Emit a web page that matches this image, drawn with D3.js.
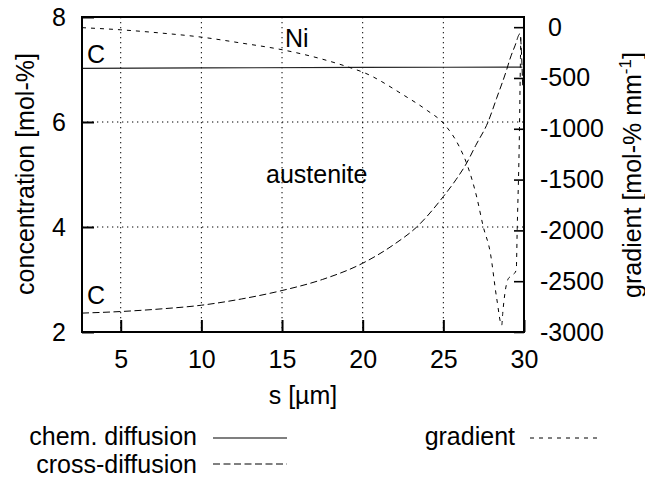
<!DOCTYPE html>
<html>
<head>
<meta charset="utf-8">
<script src="https://cdn.jsdelivr.net/npm/d3@7"></script>
<style>
  html, body { margin: 0; padding: 0; background: #fff; }
  svg text { font-family: "Liberation Sans", Arial, Helvetica, sans-serif; fill: #000; }
</style>
</head>
<body>
<svg id="chart" width="645" height="479"></svg>
<script>
// chem. diffusion profile (left axis, mol-%)
const chemS = [2.6, 10, 20, 29.9];
const chemC = [7.02, 7.03, 7.04, 7.045];

// cross-diffusion profile (left axis, mol-%)
const crossS = [2.6, 5, 7.5, 10, 12.5, 15, 17.5, 20, 22, 23.35, 25, 25.78, 26.45, 27, 27.77, 28.3, 28.93, 29.13, 29.44, 29.75, 29.92];
const crossC = [2.36, 2.39, 2.44, 2.51, 2.63, 2.79, 3.0, 3.31, 3.68, 4.0, 4.58, 4.9, 5.22, 5.55, 6.0, 6.45, 7.0, 7.2, 7.45, 7.68, 6.7];

// concentration gradient (right axis, mol-% mm^-1)
const gradS = [2.6, 5, 7.5, 10, 12.5, 15, 17.5, 19.42, 20, 22.5, 24, 25, 26, 26.45, 27.07, 27.48, 27.9, 28.31, 28.62, 28.68, 29.03, 29.3, 29.52, 29.58, 29.72, 29.78, 29.8];
const gradV = [-5, -26, -58, -98, -157, -222, -315, -409, -442, -665, -820, -945, -1180, -1343, -1672, -1967, -2210, -2671, -2933, -2818, -2474, -2440, -2390, -1980, -1000, -300, -100];

// tick values
const xTicks = [5, 10, 15, 20, 25, 30];
const yLeftTicks = [2, 4, 6, 8];
const yRightTicks = [-3000, -2500, -2000, -1500, -1000, -500, 0];

const svg = d3.select("#chart");
const pL = 82, pR = 524, pT = 17, pB = 332;

const x = d3.scaleLinear().domain([2.6, 30]).range([pL, pR]);
const yL = d3.scaleLinear().domain([2, 8]).range([pB, pT]);
const yR = d3.scaleLinear().domain([-3000, 100]).range([pB, pT]);

const FONT = 25;

// dotted grid
const grid = svg.append("g").attr("stroke", "#000").attr("stroke-width", 1)
  .attr("stroke-dasharray", "1.3,3.7");
grid.selectAll("line.v").data(xTicks.filter(d => d < 30)).join("line")
  .attr("class", "v")
  .attr("x1", d => x(d)).attr("x2", d => x(d))
  .attr("y1", pT).attr("y2", pB);
grid.selectAll("line.h").data(yLeftTicks.filter(d => d > 2 && d < 8)).join("line")
  .attr("class", "h")
  .attr("x1", pL).attr("x2", pR)
  .attr("y1", d => yL(d)).attr("y2", d => yL(d));

// axes
const gx = svg.append("g").attr("transform", `translate(0,${pB})`)
  .call(d3.axisBottom(x).tickValues(xTicks).tickFormat(d3.format("d"))
    .tickSize(-12).tickPadding(18));
const gyl = svg.append("g").attr("transform", `translate(${pL},0)`)
  .call(d3.axisLeft(yL).tickValues(yLeftTicks).tickFormat(d3.format("d"))
    .tickSize(-12).tickPadding(16));
const gyr = svg.append("g").attr("transform", `translate(${pR},0)`)
  .call(d3.axisRight(yR).tickValues(yRightTicks).tickFormat(d => String(d))
    .tickSize(-10).tickPadding(16));

[gx, gyl, gyr].forEach(g => {
  g.select(".domain").remove();
  g.selectAll("text").attr("font-size", FONT)
    .attr("font-family", '"Liberation Sans", Arial, sans-serif');
});
gx.selectAll(".tick line").attr("stroke-width", 2);
gyl.selectAll(".tick line").attr("stroke-width", 2);
gyr.selectAll(".tick line").attr("stroke-width", 1.6);
// non-negative labels keep a sign slot on the right axis
gyr.selectAll(".tick text").filter(d => d >= 0).attr("x", 16 + 8);

// curves
const lineL = d3.line().curve(d3.curveMonotoneX).x(d => x(d[0])).y(d => yL(d[1]));
const lineR = d3.line().curve(d3.curveMonotoneX).x(d => x(d[0])).y(d => yR(d[1]));

const plot = svg.append("g").attr("fill", "none").attr("stroke", "#000");

plot.append("path")
  .attr("d", lineL(chemS.map((s, i) => [s, chemC[i]])))
  .attr("stroke-width", 1.2).attr("stroke", "#222");

plot.append("path")
  .attr("d", lineL(crossS.map((s, i) => [s, crossC[i]])))
  .attr("stroke-width", 1).attr("stroke-dasharray", "7,3.5");

plot.append("path")
  .attr("d", lineR(gradS.map((s, i) => [s, gradV[i]])))
  .attr("stroke-width", 1).attr("stroke-dasharray", "4,5");

// frame
svg.append("rect")
  .attr("x", pL).attr("y", pT)
  .attr("width", pR - pL).attr("height", pB - pT)
  .attr("fill", "none").attr("stroke", "#000").attr("stroke-width", 2);

// annotations inside the plot
const notes = svg.append("g").attr("font-size", FONT);
notes.append("text").attr("x", 87).attr("y", 63).text("C");
notes.append("text").attr("x", 285).attr("y", 47).text("Ni");
notes.append("text").attr("x", 266).attr("y", 183).text("austenite");
notes.append("text").attr("x", 87).attr("y", 304).text("C");

// axis titles
svg.append("text").attr("font-size", FONT).attr("text-anchor", "middle")
  .attr("x", (pL + pR) / 2).attr("y", 404).text("s [µm]");

svg.append("text").attr("font-size", FONT).attr("text-anchor", "middle")
  .attr("transform", "translate(34,174) rotate(-90)")
  .text("concentration [mol-%]");

const rt = svg.append("text").attr("font-size", FONT).attr("text-anchor", "middle")
  .attr("transform", "translate(641,175) rotate(-90)");
rt.append("tspan").text("gradient [mol-% mm");
rt.append("tspan").attr("font-size", 17).attr("dy", -10).text("-1");
rt.append("tspan").attr("dy", 10).text("]");

// legend
const legend = [
  { label: "chem. diffusion", tx: 197, ty: 445, x1: 213, x2: 287, ly: 438, dash: null, w: 1.2 },
  { label: "cross-diffusion", tx: 197, ty: 473, x1: 213, x2: 287, ly: 464, dash: "7,3.5", w: 1 },
  { label: "gradient", tx: 515, ty: 445, x1: 530, x2: 602, ly: 438, dash: "4,5", w: 1 }
];
const lg = svg.append("g");
legend.forEach(e => {
  lg.append("text").attr("font-size", FONT).attr("text-anchor", "end")
    .attr("x", e.tx).attr("y", e.ty).text(e.label);
  lg.append("line").attr("x1", e.x1).attr("x2", e.x2).attr("y1", e.ly).attr("y2", e.ly)
    .attr("stroke", "#000").attr("stroke-width", e.w)
    .attr("stroke-dasharray", e.dash);
});
</script>
</body>
</html>
